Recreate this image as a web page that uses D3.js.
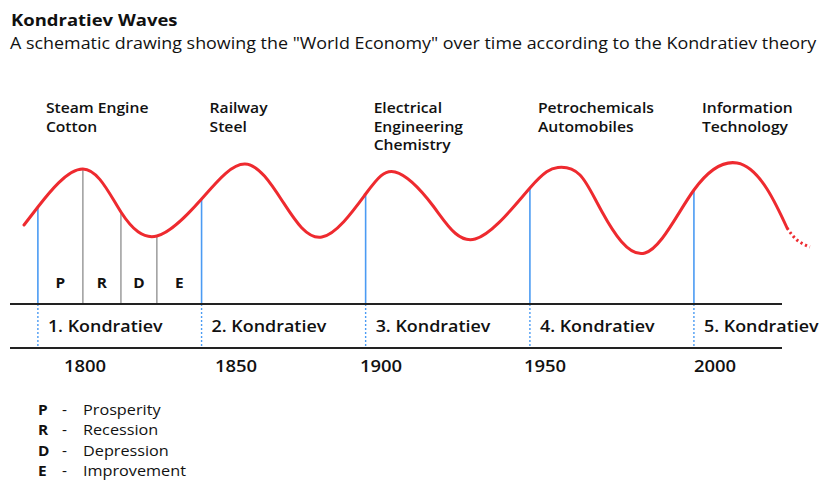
<!DOCTYPE html>
<html>
<head>
<meta charset="utf-8">
<script src="https://cdn.jsdelivr.net/npm/d3@7/dist/d3.min.js"></script>
<style>
  html, body { margin: 0; padding: 0; background: #fff; }
  svg { display: block; font-family: "Open Sans", "Noto Sans", sans-serif; }
</style>
</head>
<body>
<svg id="chart" width="824" height="481"></svg>
<script>
// ---- data ----
const tickYears = [1800, 1850, 1900, 1950, 2000];
const waveNames = ["1. Kondratiev", "2. Kondratiev", "3. Kondratiev", "4. Kondratiev", "5. Kondratiev"];
const waveStarts = [1784.4, 1838.6, 1894.7, 1945.4, 1993.8];
const innovations = [
  ["Steam Engine", "Cotton"],
  ["Railway", "Steel"],
  ["Electrical", "Engineering", "Chemistry"],
  ["Petrochemicals", "Automobiles"],
  ["Information", "Technology"]
];
const curveYears  = [1779.8, 1784.4, 1799.3, 1811.9, 1823.8, 1838.6, 1853.1, 1866.2, 1879.6, 1894.7, 1904.3, 1915.9, 1928.7, 1945.4, 1953.8, 1960.3, 1966.8, 1979.4, 1993.8, 2006.5, 2015.3, 2021.2];
const curveValues = [35, 53, 91, 48, 24, 61, 96, 58, 23, 66, 88, 54, 21, 72, 92.5, 85, 48, 7, 70, 97, 71, 32];
const tailYears  = [2021.2, 2024.1, 2027.9];
const tailValues = [32, 20, 13];
const phaseYears = [1784.4, 1799.3, 1811.9, 1823.8, 1838.6]; // P | R | D | E boundaries in wave 1
const phaseLetters = ["P", "R", "D", "E"];
const legendKeys = ["P", "R", "D", "E"];
const legendNames = ["Prosperity", "Recession", "Depression", "Improvement"];

// ---- scales ----
const x = d3.scaleLinear().domain(tickYears).range([85, 236, 381, 545, 715]);
const y = d3.scaleLinear().domain([0, 100]).range([260, 160]);

const axisTop = 304, axisBottom = 348, axisLeft = 10, axisRight = 782;
const SX = 1.12; // horizontal text stretch to match the reference typeface width

const svg = d3.select("#chart");

function valueAt(year) {
  const i = curveYears.indexOf(year);
  if (i >= 0) return curveValues[i];
  const j = d3.bisectLeft(curveYears, year);
  const t = (year - curveYears[j - 1]) / (curveYears[j] - curveYears[j - 1]);
  return curveValues[j - 1] + t * (curveValues[j] - curveValues[j - 1]);
}

function txt(px, py, s, size, weight, sx, anchor) {
  return svg.append("text")
    .attr("transform", `translate(${px},${py}) scale(${sx || SX},1)`)
    .attr("font-size", size).attr("font-weight", weight || 400)
    .attr("text-anchor", anchor || "start")
    .attr("fill", "#111").text(s);
}

// ---- title ----
txt(11, 26, "Kondratiev Waves", 16.5, 700, 1.12);
txt(10, 49, 'A schematic drawing showing the "World Economy" over time according to the Kondratiev theory', 15.5, 400, 1.155);

// ---- innovation labels ----
innovations.forEach((lines, i) => {
  lines.forEach((l, k) => txt(x(waveStarts[i]) + 8, 113 + k * 18.7, l, 14.5, 600, 1.08));
});

// ---- phase lines (wave 1) ----
svg.selectAll("line.phase").data(phaseYears.slice(1, 4)).join("line")
  .attr("class", "phase")
  .attr("x1", d => x(d)).attr("x2", d => x(d))
  .attr("y1", d => y(valueAt(d))).attr("y2", axisTop)
  .attr("stroke", "#8c8c8c").attr("stroke-width", 1.3);

phaseLetters.forEach((d, i) => {
  txt((x(phaseYears[i]) + x(phaseYears[i + 1])) / 2, 288, d, 14, 700, 1.1, "middle");
});

// ---- wave start lines ----
svg.selectAll("line.wave").data(waveStarts).join("line")
  .attr("class", "wave")
  .attr("x1", d => x(d)).attr("x2", d => x(d))
  .attr("y1", d => y(valueAt(d))).attr("y2", axisTop)
  .attr("stroke", "#4b9bf3").attr("stroke-width", 1.6);
svg.selectAll("line.wavedot").data(waveStarts).join("line")
  .attr("class", "wavedot")
  .attr("x1", d => x(d)).attr("x2", d => x(d))
  .attr("y1", axisTop).attr("y2", axisBottom)
  .attr("stroke", "#4b9bf3").attr("stroke-width", 1.4)
  .attr("stroke-dasharray", "2,2");

// ---- curve ----
const line = d3.line().x(d => x(d[0])).y(d => y(d[1])).curve(d3.curveNatural);
svg.append("path").datum(d3.zip(curveYears, curveValues))
  .attr("d", line).attr("fill", "none")
  .attr("stroke", "#ee2a2f").attr("stroke-width", 3).attr("stroke-linecap", "round");
svg.append("path").datum(d3.zip(tailYears, tailValues))
  .attr("d", line).attr("fill", "none")
  .attr("stroke", "#ee2a2f").attr("stroke-width", 3)
  .attr("stroke-dasharray", "2.2,2.8");

// ---- horizontal band lines ----
[axisTop, axisBottom].forEach(yy => {
  svg.append("line").attr("x1", axisLeft).attr("x2", axisRight)
    .attr("y1", yy).attr("y2", yy).attr("stroke", "#222").attr("stroke-width", 2);
});

// ---- wave names ----
waveNames.forEach((d, i) => txt(x(waveStarts[i]) + 10, 332, d, 16, 600, 1.12));

// ---- year ticks ----
tickYears.forEach(d => txt(x(d), 372, d, 16.5, 600, 1.12, "middle"));

// ---- legend ----
legendKeys.forEach((k, i) => {
  const yy = 415 + i * 20.4;
  txt(38, yy, k, 14, 700, 1.1);
  txt(62, yy, "-", 14, 400, 1.1);
  txt(83, yy, legendNames[i], 14.5, 500, 1.12);
});
</script>
</body>
</html>
